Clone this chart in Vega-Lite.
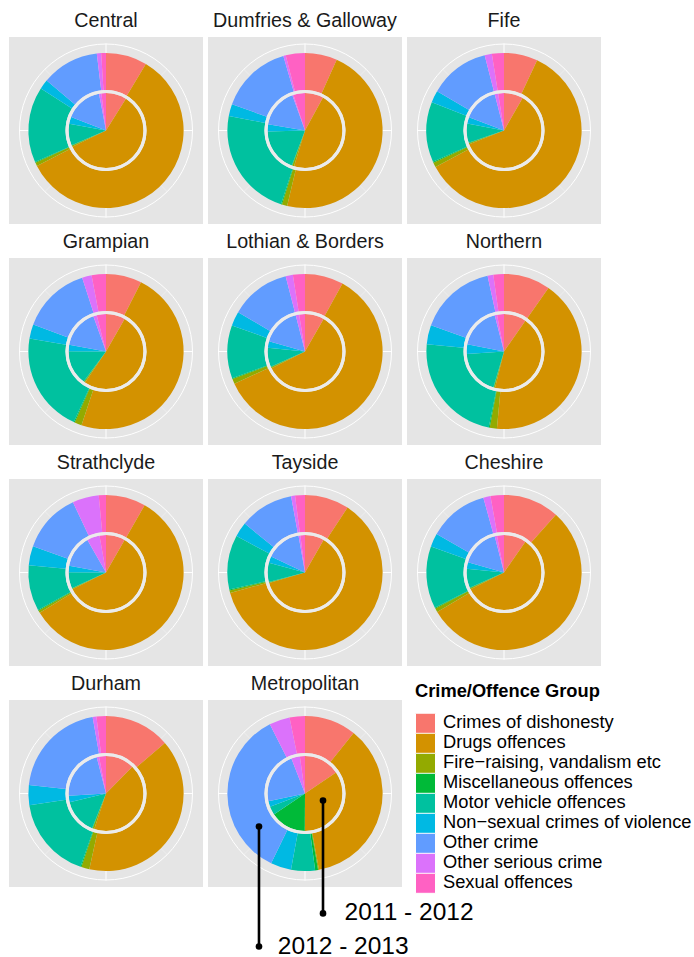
{
"$schema": "https://vega.github.io/schema/vega-lite/v6.json",
"background": "white",
"padding": {"left": 9, "top": 11, "right": 0, "bottom": 0},
"bounds": "flush",
"data": {"values": [
{"force":"Central","year":"2011 - 2012","group":"Crimes of dishonesty","share":9},
{"force":"Central","year":"2011 - 2012","group":"Drugs offences","share":59.5},
{"force":"Central","year":"2011 - 2012","group":"Fire−raising, vandalism etc","share":0.5},
{"force":"Central","year":"2011 - 2012","group":"Miscellaneous offences","share":0.2},
{"force":"Central","year":"2011 - 2012","group":"Motor vehicle offences","share":9.5},
{"force":"Central","year":"2011 - 2012","group":"Non−sexual crimes of violence","share":3},
{"force":"Central","year":"2011 - 2012","group":"Other crime","share":16.3},
{"force":"Central","year":"2011 - 2012","group":"Other serious crime","share":1},
{"force":"Central","year":"2011 - 2012","group":"Sexual offences","share":2},
{"force":"Central","year":"2012 - 2013","group":"Crimes of dishonesty","share":8.6},
{"force":"Central","year":"2012 - 2013","group":"Drugs offences","share":59},
{"force":"Central","year":"2012 - 2013","group":"Fire−raising, vandalism etc","share":0.7},
{"force":"Central","year":"2012 - 2013","group":"Miscellaneous offences","share":0.2},
{"force":"Central","year":"2012 - 2013","group":"Motor vehicle offences","share":15.8},
{"force":"Central","year":"2012 - 2013","group":"Non−sexual crimes of violence","share":2},
{"force":"Central","year":"2012 - 2013","group":"Other crime","share":12},
{"force":"Central","year":"2012 - 2013","group":"Other serious crime","share":0.9},
{"force":"Central","year":"2012 - 2013","group":"Sexual offences","share":1},
{"force":"Dumfries & Galloway","year":"2011 - 2012","group":"Crimes of dishonesty","share":8},
{"force":"Dumfries & Galloway","year":"2011 - 2012","group":"Drugs offences","share":47},
{"force":"Dumfries & Galloway","year":"2011 - 2012","group":"Fire−raising, vandalism etc","share":0.8},
{"force":"Dumfries & Galloway","year":"2011 - 2012","group":"Miscellaneous offences","share":0.2},
{"force":"Dumfries & Galloway","year":"2011 - 2012","group":"Motor vehicle offences","share":19},
{"force":"Dumfries & Galloway","year":"2011 - 2012","group":"Non−sexual crimes of violence","share":3},
{"force":"Dumfries & Galloway","year":"2011 - 2012","group":"Other crime","share":17},
{"force":"Dumfries & Galloway","year":"2011 - 2012","group":"Other serious crime","share":0.5},
{"force":"Dumfries & Galloway","year":"2011 - 2012","group":"Sexual offences","share":5},
{"force":"Dumfries & Galloway","year":"2012 - 2013","group":"Crimes of dishonesty","share":6.7},
{"force":"Dumfries & Galloway","year":"2012 - 2013","group":"Drugs offences","share":47},
{"force":"Dumfries & Galloway","year":"2012 - 2013","group":"Fire−raising, vandalism etc","share":1.1},
{"force":"Dumfries & Galloway","year":"2012 - 2013","group":"Miscellaneous offences","share":0.2},
{"force":"Dumfries & Galloway","year":"2012 - 2013","group":"Motor vehicle offences","share":23},
{"force":"Dumfries & Galloway","year":"2012 - 2013","group":"Non−sexual crimes of violence","share":2.5},
{"force":"Dumfries & Galloway","year":"2012 - 2013","group":"Other crime","share":15},
{"force":"Dumfries & Galloway","year":"2012 - 2013","group":"Other serious crime","share":0.5},
{"force":"Dumfries & Galloway","year":"2012 - 2013","group":"Sexual offences","share":4},
{"force":"Fife","year":"2011 - 2012","group":"Crimes of dishonesty","share":8.3},
{"force":"Fife","year":"2011 - 2012","group":"Drugs offences","share":61},
{"force":"Fife","year":"2011 - 2012","group":"Fire−raising, vandalism etc","share":0.5},
{"force":"Fife","year":"2011 - 2012","group":"Miscellaneous offences","share":0.2},
{"force":"Fife","year":"2011 - 2012","group":"Motor vehicle offences","share":8.3},
{"force":"Fife","year":"2011 - 2012","group":"Non−sexual crimes of violence","share":2.8},
{"force":"Fife","year":"2011 - 2012","group":"Other crime","share":15.3},
{"force":"Fife","year":"2011 - 2012","group":"Other serious crime","share":1.5},
{"force":"Fife","year":"2011 - 2012","group":"Sexual offences","share":2.5},
{"force":"Fife","year":"2012 - 2013","group":"Crimes of dishonesty","share":7},
{"force":"Fife","year":"2012 - 2013","group":"Drugs offences","share":60},
{"force":"Fife","year":"2012 - 2013","group":"Fire−raising, vandalism etc","share":1},
{"force":"Fife","year":"2012 - 2013","group":"Miscellaneous offences","share":0.2},
{"force":"Fife","year":"2012 - 2013","group":"Motor vehicle offences","share":12.5},
{"force":"Fife","year":"2012 - 2013","group":"Non−sexual crimes of violence","share":2.5},
{"force":"Fife","year":"2012 - 2013","group":"Other crime","share":12.5},
{"force":"Fife","year":"2012 - 2013","group":"Other serious crime","share":1.5},
{"force":"Fife","year":"2012 - 2013","group":"Sexual offences","share":2.5},
{"force":"Grampian","year":"2011 - 2012","group":"Crimes of dishonesty","share":8.3},
{"force":"Grampian","year":"2011 - 2012","group":"Drugs offences","share":51.4},
{"force":"Grampian","year":"2011 - 2012","group":"Fire−raising, vandalism etc","share":0.5},
{"force":"Grampian","year":"2011 - 2012","group":"Miscellaneous offences","share":0.2},
{"force":"Grampian","year":"2011 - 2012","group":"Motor vehicle offences","share":15},
{"force":"Grampian","year":"2011 - 2012","group":"Non−sexual crimes of violence","share":2.8},
{"force":"Grampian","year":"2011 - 2012","group":"Other crime","share":16.7},
{"force":"Grampian","year":"2011 - 2012","group":"Other serious crime","share":1.5},
{"force":"Grampian","year":"2011 - 2012","group":"Sexual offences","share":4},
{"force":"Grampian","year":"2012 - 2013","group":"Crimes of dishonesty","share":7.5},
{"force":"Grampian","year":"2012 - 2013","group":"Drugs offences","share":48},
{"force":"Grampian","year":"2012 - 2013","group":"Fire−raising, vandalism etc","share":1.5},
{"force":"Grampian","year":"2012 - 2013","group":"Miscellaneous offences","share":0.2},
{"force":"Grampian","year":"2012 - 2013","group":"Motor vehicle offences","share":21},
{"force":"Grampian","year":"2012 - 2013","group":"Non−sexual crimes of violence","share":3},
{"force":"Grampian","year":"2012 - 2013","group":"Other crime","share":14.5},
{"force":"Grampian","year":"2012 - 2013","group":"Other serious crime","share":2},
{"force":"Grampian","year":"2012 - 2013","group":"Sexual offences","share":3},
{"force":"Lothian & Borders","year":"2011 - 2012","group":"Crimes of dishonesty","share":8.3},
{"force":"Lothian & Borders","year":"2011 - 2012","group":"Drugs offences","share":59.7},
{"force":"Lothian & Borders","year":"2011 - 2012","group":"Fire−raising, vandalism etc","share":0.5},
{"force":"Lothian & Borders","year":"2011 - 2012","group":"Miscellaneous offences","share":0.2},
{"force":"Lothian & Borders","year":"2011 - 2012","group":"Motor vehicle offences","share":8.3},
{"force":"Lothian & Borders","year":"2011 - 2012","group":"Non−sexual crimes of violence","share":2.8},
{"force":"Lothian & Borders","year":"2011 - 2012","group":"Other crime","share":16.7},
{"force":"Lothian & Borders","year":"2011 - 2012","group":"Other serious crime","share":1.5},
{"force":"Lothian & Borders","year":"2011 - 2012","group":"Sexual offences","share":2.5},
{"force":"Lothian & Borders","year":"2012 - 2013","group":"Crimes of dishonesty","share":8},
{"force":"Lothian & Borders","year":"2012 - 2013","group":"Drugs offences","share":60},
{"force":"Lothian & Borders","year":"2012 - 2013","group":"Fire−raising, vandalism etc","share":1},
{"force":"Lothian & Borders","year":"2012 - 2013","group":"Miscellaneous offences","share":0.2},
{"force":"Lothian & Borders","year":"2012 - 2013","group":"Motor vehicle offences","share":11},
{"force":"Lothian & Borders","year":"2012 - 2013","group":"Non−sexual crimes of violence","share":3},
{"force":"Lothian & Borders","year":"2012 - 2013","group":"Other crime","share":12.5},
{"force":"Lothian & Borders","year":"2012 - 2013","group":"Other serious crime","share":1.5},
{"force":"Lothian & Borders","year":"2012 - 2013","group":"Sexual offences","share":2.5},
{"force":"Northern","year":"2011 - 2012","group":"Crimes of dishonesty","share":9.7},
{"force":"Northern","year":"2011 - 2012","group":"Drugs offences","share":44.4},
{"force":"Northern","year":"2011 - 2012","group":"Fire−raising, vandalism etc","share":0.5},
{"force":"Northern","year":"2011 - 2012","group":"Miscellaneous offences","share":0.2},
{"force":"Northern","year":"2011 - 2012","group":"Motor vehicle offences","share":19.4},
{"force":"Northern","year":"2011 - 2012","group":"Non−sexual crimes of violence","share":4.2},
{"force":"Northern","year":"2011 - 2012","group":"Other crime","share":18},
{"force":"Northern","year":"2011 - 2012","group":"Other serious crime","share":1},
{"force":"Northern","year":"2011 - 2012","group":"Sexual offences","share":3},
{"force":"Northern","year":"2012 - 2013","group":"Crimes of dishonesty","share":9.7},
{"force":"Northern","year":"2012 - 2013","group":"Drugs offences","share":41.7},
{"force":"Northern","year":"2012 - 2013","group":"Fire−raising, vandalism etc","share":1.5},
{"force":"Northern","year":"2012 - 2013","group":"Miscellaneous offences","share":0.2},
{"force":"Northern","year":"2012 - 2013","group":"Motor vehicle offences","share":23.3},
{"force":"Northern","year":"2012 - 2013","group":"Non−sexual crimes of violence","share":4},
{"force":"Northern","year":"2012 - 2013","group":"Other crime","share":16.1},
{"force":"Northern","year":"2012 - 2013","group":"Other serious crime","share":1.2},
{"force":"Northern","year":"2012 - 2013","group":"Sexual offences","share":2.2},
{"force":"Strathclyde","year":"2011 - 2012","group":"Crimes of dishonesty","share":8.3},
{"force":"Strathclyde","year":"2011 - 2012","group":"Drugs offences","share":59.7},
{"force":"Strathclyde","year":"2011 - 2012","group":"Fire−raising, vandalism etc","share":0.3},
{"force":"Strathclyde","year":"2011 - 2012","group":"Miscellaneous offences","share":0.2},
{"force":"Strathclyde","year":"2011 - 2012","group":"Motor vehicle offences","share":7},
{"force":"Strathclyde","year":"2011 - 2012","group":"Non−sexual crimes of violence","share":2.8},
{"force":"Strathclyde","year":"2011 - 2012","group":"Other crime","share":13.9},
{"force":"Strathclyde","year":"2011 - 2012","group":"Other serious crime","share":5.5},
{"force":"Strathclyde","year":"2011 - 2012","group":"Sexual offences","share":2.8},
{"force":"Strathclyde","year":"2012 - 2013","group":"Crimes of dishonesty","share":8.3},
{"force":"Strathclyde","year":"2012 - 2013","group":"Drugs offences","share":58},
{"force":"Strathclyde","year":"2012 - 2013","group":"Fire−raising, vandalism etc","share":0.5},
{"force":"Strathclyde","year":"2012 - 2013","group":"Miscellaneous offences","share":0.2},
{"force":"Strathclyde","year":"2012 - 2013","group":"Motor vehicle offences","share":9.5},
{"force":"Strathclyde","year":"2012 - 2013","group":"Non−sexual crimes of violence","share":4},
{"force":"Strathclyde","year":"2012 - 2013","group":"Other crime","share":12.5},
{"force":"Strathclyde","year":"2012 - 2013","group":"Other serious crime","share":5.5},
{"force":"Strathclyde","year":"2012 - 2013","group":"Sexual offences","share":1.5},
{"force":"Tayside","year":"2011 - 2012","group":"Crimes of dishonesty","share":8.3},
{"force":"Tayside","year":"2011 - 2012","group":"Drugs offences","share":62.5},
{"force":"Tayside","year":"2011 - 2012","group":"Fire−raising, vandalism etc","share":0.3},
{"force":"Tayside","year":"2011 - 2012","group":"Miscellaneous offences","share":0.2},
{"force":"Tayside","year":"2011 - 2012","group":"Motor vehicle offences","share":8.3},
{"force":"Tayside","year":"2011 - 2012","group":"Non−sexual crimes of violence","share":2.8},
{"force":"Tayside","year":"2011 - 2012","group":"Other crime","share":15.3},
{"force":"Tayside","year":"2011 - 2012","group":"Other serious crime","share":0.8},
{"force":"Tayside","year":"2011 - 2012","group":"Sexual offences","share":2},
{"force":"Tayside","year":"2012 - 2013","group":"Crimes of dishonesty","share":9},
{"force":"Tayside","year":"2012 - 2013","group":"Drugs offences","share":60},
{"force":"Tayside","year":"2012 - 2013","group":"Fire−raising, vandalism etc","share":0.5},
{"force":"Tayside","year":"2012 - 2013","group":"Miscellaneous offences","share":0.2},
{"force":"Tayside","year":"2012 - 2013","group":"Motor vehicle offences","share":11},
{"force":"Tayside","year":"2012 - 2013","group":"Non−sexual crimes of violence","share":3},
{"force":"Tayside","year":"2012 - 2013","group":"Other crime","share":11},
{"force":"Tayside","year":"2012 - 2013","group":"Other serious crime","share":0.8},
{"force":"Tayside","year":"2012 - 2013","group":"Sexual offences","share":2},
{"force":"Cheshire","year":"2011 - 2012","group":"Crimes of dishonesty","share":9.7},
{"force":"Cheshire","year":"2011 - 2012","group":"Drugs offences","share":58.3},
{"force":"Cheshire","year":"2011 - 2012","group":"Fire−raising, vandalism etc","share":0.5},
{"force":"Cheshire","year":"2011 - 2012","group":"Miscellaneous offences","share":0.2},
{"force":"Cheshire","year":"2011 - 2012","group":"Motor vehicle offences","share":8.3},
{"force":"Cheshire","year":"2011 - 2012","group":"Non−sexual crimes of violence","share":2.8},
{"force":"Cheshire","year":"2011 - 2012","group":"Other crime","share":16.7},
{"force":"Cheshire","year":"2011 - 2012","group":"Other serious crime","share":1},
{"force":"Cheshire","year":"2011 - 2012","group":"Sexual offences","share":3},
{"force":"Cheshire","year":"2012 - 2013","group":"Crimes of dishonesty","share":11.7},
{"force":"Cheshire","year":"2012 - 2013","group":"Drugs offences","share":55},
{"force":"Cheshire","year":"2012 - 2013","group":"Fire−raising, vandalism etc","share":0.8},
{"force":"Cheshire","year":"2012 - 2013","group":"Miscellaneous offences","share":0.2},
{"force":"Cheshire","year":"2012 - 2013","group":"Motor vehicle offences","share":13},
{"force":"Cheshire","year":"2012 - 2013","group":"Non−sexual crimes of violence","share":2.8},
{"force":"Cheshire","year":"2012 - 2013","group":"Other crime","share":12.5},
{"force":"Cheshire","year":"2012 - 2013","group":"Other serious crime","share":1.5},
{"force":"Cheshire","year":"2012 - 2013","group":"Sexual offences","share":2.8},
{"force":"Durham","year":"2011 - 2012","group":"Crimes of dishonesty","share":12.5},
{"force":"Durham","year":"2011 - 2012","group":"Drugs offences","share":43},
{"force":"Durham","year":"2011 - 2012","group":"Fire−raising, vandalism etc","share":0.8},
{"force":"Durham","year":"2011 - 2012","group":"Miscellaneous offences","share":0.2},
{"force":"Durham","year":"2011 - 2012","group":"Motor vehicle offences","share":15.3},
{"force":"Durham","year":"2011 - 2012","group":"Non−sexual crimes of violence","share":2.8},
{"force":"Durham","year":"2011 - 2012","group":"Other crime","share":22.2},
{"force":"Durham","year":"2011 - 2012","group":"Other serious crime","share":1},
{"force":"Durham","year":"2011 - 2012","group":"Sexual offences","share":3},
{"force":"Durham","year":"2012 - 2013","group":"Crimes of dishonesty","share":13.9},
{"force":"Durham","year":"2012 - 2013","group":"Drugs offences","share":40.3},
{"force":"Durham","year":"2012 - 2013","group":"Fire−raising, vandalism etc","share":1.7},
{"force":"Durham","year":"2012 - 2013","group":"Miscellaneous offences","share":0.2},
{"force":"Durham","year":"2012 - 2013","group":"Motor vehicle offences","share":17.5},
{"force":"Durham","year":"2012 - 2013","group":"Non−sexual crimes of violence","share":4.2},
{"force":"Durham","year":"2012 - 2013","group":"Other crime","share":20.8},
{"force":"Durham","year":"2012 - 2013","group":"Other serious crime","share":0.8},
{"force":"Durham","year":"2012 - 2013","group":"Sexual offences","share":2},
{"force":"Metropolitan","year":"2011 - 2012","group":"Crimes of dishonesty","share":15.5},
{"force":"Metropolitan","year":"2011 - 2012","group":"Drugs offences","share":34.5},
{"force":"Metropolitan","year":"2011 - 2012","group":"Fire−raising, vandalism etc","share":0.1},
{"force":"Metropolitan","year":"2011 - 2012","group":"Miscellaneous offences","share":15.5},
{"force":"Metropolitan","year":"2011 - 2012","group":"Motor vehicle offences","share":3.6},
{"force":"Metropolitan","year":"2011 - 2012","group":"Non−sexual crimes of violence","share":2.5},
{"force":"Metropolitan","year":"2011 - 2012","group":"Other crime","share":22.4},
{"force":"Metropolitan","year":"2011 - 2012","group":"Other serious crime","share":3.7},
{"force":"Metropolitan","year":"2011 - 2012","group":"Sexual offences","share":2.2},
{"force":"Metropolitan","year":"2012 - 2013","group":"Crimes of dishonesty","share":10.8},
{"force":"Metropolitan","year":"2012 - 2013","group":"Drugs offences","share":36.4},
{"force":"Metropolitan","year":"2012 - 2013","group":"Fire−raising, vandalism etc","share":0.2},
{"force":"Metropolitan","year":"2012 - 2013","group":"Miscellaneous offences","share":0.6},
{"force":"Metropolitan","year":"2012 - 2013","group":"Motor vehicle offences","share":5},
{"force":"Metropolitan","year":"2012 - 2013","group":"Non−sexual crimes of violence","share":4.3},
{"force":"Metropolitan","year":"2012 - 2013","group":"Other crime","share":35.4},
{"force":"Metropolitan","year":"2012 - 2013","group":"Other serious crime","share":4.3},
{"force":"Metropolitan","year":"2012 - 2013","group":"Sexual offences","share":3.2},
{"force":"Metropolitan","label":"2011 - 2012","ax":0.232,"ay":-0.09,"ay2":-1.545,"tx":0.51},
{"force":"Metropolitan","label":"2012 - 2013","ax":-0.593,"ay":-0.425,"ay2":-1.972,"tx":-0.35}
]},
"facet": {"field": "force", "type": "nominal",
  "sort": ["Central","Dumfries & Galloway","Fife","Grampian","Lothian & Borders","Northern","Strathclyde","Tayside","Cheshire","Durham","Metropolitan"],
  "header": {"title": null, "labelFont": "Liberation Sans", "labelFontSize": 19.7, "labelColor": "#1a1a1a", "labelPadding": 6}},
"columns": 3,
"spacing": {"row": 34, "column": 5},
"spec": {
  "width": 194, "height": 187,
  "layer": [
    {"transform": [{"filter": "datum.group == 'Crimes of dishonesty' && datum.year == '2011 - 2012'"}],
     "mark": {"type": "point", "shape": "M0.7071,-0.7071L0.631,-0.631M0.7071,0.7071L0.631,0.631M-0.7071,0.7071L-0.631,0.631M-0.7071,-0.7071L-0.631,-0.631", "size": 30276, "filled": false, "stroke": "#f2f2f2", "strokeWidth": 0.6, "opacity": 1},
     "encoding": {}},
    {"transform": [{"filter": "datum.group == 'Crimes of dishonesty' && datum.year == '2011 - 2012'"}],
     "mark": {"type": "point", "shape": "M0,-1L0,-0.892M1,0L0.892,0M0,1L0,0.892M-1,0L-0.892,0", "size": 30276, "filled": false, "stroke": "white", "strokeWidth": 1, "opacity": 1},
     "encoding": {}},
    {"transform": [{"filter": "datum.group == 'Crimes of dishonesty' && datum.year == '2011 - 2012'"}],
     "mark": {"type": "point", "shape": "circle", "size": 29929, "filled": false, "stroke": "white", "strokeWidth": 1, "opacity": 1},
     "encoding": {}},
    {"transform": [{"filter": "datum.year == '2011 - 2012'"}],
     "mark": {"type": "arc", "radius": 37.5, "radius2": 0},
     "encoding": {
       "theta": {"field": "share", "type": "quantitative", "stack": "normalize"},
       "order": {"field": "group", "type": "ordinal"},
       "color": {"field": "group", "type": "nominal",
         "scale": {"domain": ["Crimes of dishonesty","Drugs offences","Fire−raising, vandalism etc","Miscellaneous offences","Motor vehicle offences","Non−sexual crimes of violence","Other crime","Other serious crime","Sexual offences"],
                   "range": ["#F8766D","#D39200","#93AA00","#00BA38","#00C19F","#00B9E3","#619CFF","#DB72FB","#FF61C3"]},
         "legend": {"title": "Crime/Offence Group", "rowPadding": 0, "clipHeight": 20, "titleLimit": 400}}}},
    {"transform": [{"filter": "datum.year == '2012 - 2013'"}],
     "mark": {"type": "arc", "radius": 77.6, "radius2": 40.5},
     "encoding": {
       "theta": {"field": "share", "type": "quantitative", "stack": "normalize"},
       "order": {"field": "group", "type": "ordinal"},
       "color": {"field": "group", "type": "nominal"}}},
    {"transform": [{"filter": "datum.group == 'Crimes of dishonesty' && datum.year == '2011 - 2012'"}],
     "mark": {"type": "point", "shape": "circle", "size": 6084, "filled": false, "stroke": "#EBEBEB", "strokeWidth": 3.2, "opacity": 1},
     "encoding": {}},
    {"transform": [{"filter": "datum.label != null"}],
     "mark": {"type": "rule", "color": "black", "strokeWidth": 2.6},
     "encoding": {
       "x": {"field": "ax", "type": "quantitative", "scale": {"domain": [-1.25, 1.25], "nice": false, "zero": false}, "axis": null},
       "y": {"field": "ay", "type": "quantitative", "scale": {"domain": [-1.2049, 1.2049], "nice": false, "zero": false}, "axis": null},
       "y2": {"field": "ay2"}}},
    {"transform": [{"filter": "datum.label != null"}],
     "mark": {"type": "point", "shape": "circle", "filled": true, "color": "black", "size": 44, "opacity": 1},
     "encoding": {
       "x": {"field": "ax", "type": "quantitative"},
       "y": {"field": "ay", "type": "quantitative"}}},
    {"transform": [{"filter": "datum.label != null"}],
     "mark": {"type": "point", "shape": "circle", "filled": true, "color": "black", "size": 44, "opacity": 1},
     "encoding": {
       "x": {"field": "ax", "type": "quantitative"},
       "y": {"field": "ay2", "type": "quantitative"}}},
    {"transform": [{"filter": "datum.label != null"}],
     "mark": {"type": "text", "align": "left", "baseline": "middle", "font": "Liberation Sans", "fontSize": 24.5, "color": "black"},
     "encoding": {
       "x": {"field": "tx", "type": "quantitative"},
       "y": {"field": "ay2", "type": "quantitative"},
       "text": {"field": "label"}}}
  ]
},
"config": {
  "view": {"fill": "#E5E5E5", "stroke": null},
  "legend": {"orient": "none", "legendX": 406, "legendY": 646, "titleFont": "Liberation Sans", "titleFontSize": 18.3, "titleFontWeight": "bold", "titleColor": "black", "titlePadding": 12, "titleLimit": 400,
     "labelFont": "Liberation Sans", "labelFontSize": 18.3, "labelColor": "black", "labelOffset": 7, "symbolType": "square", "symbolSize": 400, "symbolStrokeColor": "white", "symbolStrokeWidth": 1, "rowPadding": 0, "clipHeight": 20, "labelLimit": 400}
}
}
